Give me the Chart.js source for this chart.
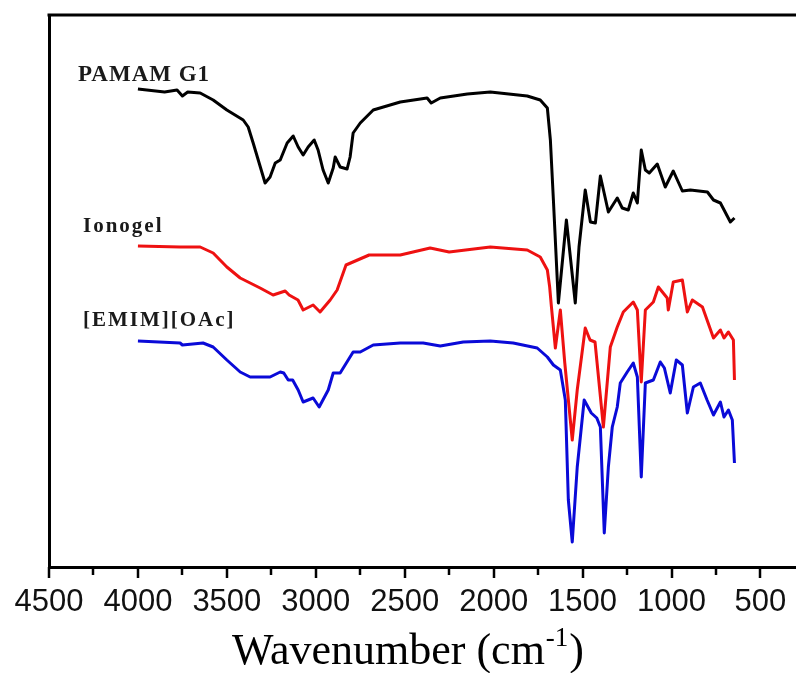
<!DOCTYPE html>
<html>
<head>
<meta charset="utf-8">
<script src="https://cdn.jsdelivr.net/npm/chart.js@4.4.1/dist/chart.umd.min.js"></script>
<style>
  html, body { margin: 0; padding: 0; background: #fff; }
  #wrap { width: 796px; height: 673px; position: relative; }
</style>
</head>
<body>
<div id="wrap"><canvas id="ftir"></canvas></div>
<script>
// Спектры ИК (произвольные единицы пропускания, кривые смещены по вертикали)
const pamamWn = [4000, 3850, 3780, 3750, 3720, 3650, 3577, 3500, 3408, 3380, 3352, 3285, 3257, 3228, 3200, 3161, 3127, 3099, 3071, 3043, 3009, 2987, 2959, 2930, 2902, 2891, 2863, 2824, 2807, 2790, 2750, 2677, 2525, 2374, 2351, 2300, 2148, 2019, 1811, 1738, 1698, 1681, 1664, 1636, 1591, 1541, 1520, 1485, 1456, 1428, 1400, 1355, 1305, 1277, 1243, 1215, 1192, 1170, 1147, 1125, 1080, 1035, 990, 939, 894, 798, 764, 725, 669, 646];
const pamamT = [478, 475, 477, 471, 475, 474, 467, 457, 447, 440, 424, 384, 390, 404, 407, 424, 431, 420, 412, 420, 427, 417, 397, 384, 399, 410, 400, 398, 410, 434, 444, 457, 465, 469, 464, 469, 473, 475, 471, 467, 459, 427, 367, 264, 347, 264, 320, 377, 345, 344, 391, 355, 369, 359, 357, 374, 364, 417, 397, 394, 403, 380, 396, 376, 377, 375, 367, 364, 345, 349];

const ionogelWn = [4000, 3763, 3650, 3577, 3500, 3425, 3313, 3240, 3172, 3150, 3100, 3071, 3015, 2976, 2919, 2880, 2830, 2700, 2525, 2357, 2250, 2019, 1811, 1738, 1698, 1685, 1675, 1653, 1625, 1600, 1558, 1530, 1485, 1458, 1430, 1383, 1344, 1305, 1271, 1215, 1192, 1170, 1147, 1102, 1074, 1024, 1018, 990, 939, 911, 883, 826, 764, 725, 705, 680, 652, 646];
const ionogelT = [321, 320, 320, 314, 300, 289, 279, 272, 276, 272, 267, 257, 262, 255, 267, 277, 302, 312, 312, 319, 315, 320, 317, 310, 297, 280, 260, 219, 257, 204, 127, 177, 239, 227, 225, 140, 220, 240, 255, 265, 257, 185, 257, 265, 280, 269, 257, 285, 287, 255, 267, 260, 229, 237, 229, 235, 227, 187];

const emimWn = [4000, 3763, 3750, 3634, 3577, 3500, 3425, 3369, 3257, 3200, 3180, 3155, 3130, 3099, 3071, 3015, 2981, 2930, 2902, 2863, 2790, 2750, 2677, 2525, 2396, 2300, 2171, 2019, 1890, 1755, 1698, 1664, 1625, 1597, 1580, 1558, 1530, 1491, 1451, 1420, 1400, 1378, 1355, 1333, 1305, 1288, 1249, 1215, 1192, 1170, 1147, 1102, 1063, 1040, 1007, 973, 939, 911, 877, 838, 800, 764, 725, 705, 680, 658, 646];
const emimT = [226, 224, 222, 224, 220, 207, 195, 190, 190, 195, 194, 187, 187, 177, 165, 169, 160, 177, 194, 194, 215, 215, 222, 224, 224, 221, 225, 226, 224, 219, 210, 202, 197, 167, 67, 25, 100, 167, 154, 149, 140, 34, 100, 140, 160, 184, 195, 204, 190, 90, 184, 187, 205, 199, 174, 207, 202, 154, 180, 184, 167, 152, 165, 150, 157, 147, 104];

const seriesNames = ["PAMAM G1", "Ionogel", "[EMIM][OAc]"];
const seriesColors = ["#000000", "#ee1111", "#0a0ad8"];
const xTickValues = [4500, 4000, 3500, 3000, 2500, 2000, 1500, 1000, 500];

const toPoints = (xs, ys) => xs.map((x, i) => ({ x, y: ys[i] }));

// Подписи кривых: [текст, волновое число левого края, значение базовой линии, размер, разрядка]
const curveLabels = [
    [seriesNames[0], 4337, 486, 23, 1],
    [seriesNames[1], 4309, 335, 21, 2],
    [seriesNames[2], 4309, 241, 21, 2],
];

// Рамка сверху, засечки и подпись оси X
const framePlugin = {
    id: "frame",
    afterDraw(chart) {
        const { ctx, chartArea, scales } = chart;
        const xs = scales.x;
        ctx.save();
        ctx.strokeStyle = "#000";
        ctx.lineWidth = 3;
        ctx.beginPath();
        ctx.moveTo(chartArea.left - 1.5, chartArea.top);
        ctx.lineTo(chartArea.right, chartArea.top);
        ctx.stroke();

        ctx.lineWidth = 2.5;
        for (let v = 500; v <= 4500; v += 250) {
            const px = Math.round(xs.getPixelForValue(v));
            const len = v % 500 === 0 ? 11 : 8;
            ctx.beginPath();
            ctx.moveTo(px, chartArea.bottom);
            ctx.lineTo(px, chartArea.bottom + len);
            ctx.stroke();
        }

        // подписи кривых
        ctx.fillStyle = "#1a1a1a";
        ctx.textBaseline = "alphabetic";
        ctx.textAlign = "left";
        curveLabels.forEach(([text, wn, val, size, sp]) => {
            ctx.font = `bold ${size}px "Liberation Serif"`;
            ctx.letterSpacing = sp + "px";
            ctx.fillText(text, xs.getPixelForValue(wn), scales.y.getPixelForValue(val));
        });
        ctx.letterSpacing = "0px";

        // подпись оси с верхним индексом
        const main = "Wavenumber (cm";
        const sup = "-1";
        const tail = ")";
        ctx.fillStyle = "#000";
        ctx.font = '44px "Liberation Serif"';
        const w1 = ctx.measureText(main).width;
        const w3 = ctx.measureText(tail).width;
        ctx.font = '27px "Liberation Serif"';
        const w2 = ctx.measureText(sup).width;
        const total = w1 + w2 + w3 + 2;
        let x = 408 - total / 2;
        const base = 664;
        ctx.font = '44px "Liberation Serif"';
        ctx.fillText(main, x, base);
        x += w1 + 1;
        ctx.font = '27px "Liberation Serif"';
        ctx.fillText(sup, x, base - 18);
        x += w2 + 1;
        ctx.font = '44px "Liberation Serif"';
        ctx.fillText(tail, x, base);
        ctx.restore();
    },
};

Chart.defaults.font.family = "Liberation Sans";
Chart.defaults.color = "#111";

new Chart(document.getElementById("ftir"), {
    type: "line",
    data: {
        datasets: [
            { label: seriesNames[0], data: toPoints(pamamWn, pamamT), borderColor: seriesColors[0] },
            { label: seriesNames[1], data: toPoints(ionogelWn, ionogelT), borderColor: seriesColors[1] },
            { label: seriesNames[2], data: toPoints(emimWn, emimT), borderColor: seriesColors[2] },
        ].map((d) => ({ ...d, borderWidth: 3, pointRadius: 0, tension: 0, fill: false, borderJoinStyle: "round" })),
    },
    options: {
        responsive: true,
        maintainAspectRatio: false,
        animation: false,
        layout: { padding: { top: 15, right: 0, left: 0, bottom: 0 } },
        plugins: { legend: { display: false }, tooltip: { enabled: false } },
        scales: {
            x: {
                type: "linear",
                reverse: true,
                min: 300,
                max: 4500,
                grid: { display: false, drawTicks: false },
                border: { display: true, color: "#000", width: 3 },
                ticks: {
                    autoSkip: false,
                    padding: 17,
                    font: { size: 31 },
                    color: "#111",
                    maxRotation: 0,
                    callback: (v) => String(v),
                },
                afterBuildTicks: (scale) => {
                    scale.ticks = xTickValues.map((value) => ({ value }));
                },
                afterFit: (scale) => {
                    scale.height = 106;
                    scale.paddingLeft = 0;
                    scale.paddingRight = 0;
                },
            },
            y: {
                type: "linear",
                min: 0,
                max: 552,
                grid: { display: false, drawTicks: false },
                border: { display: true, color: "#000", width: 3 },
                ticks: { display: false },
                afterFit: (scale) => { scale.width = 49; },
            },
        },
    },
    plugins: [framePlugin],
});
</script>
</body>
</html>
